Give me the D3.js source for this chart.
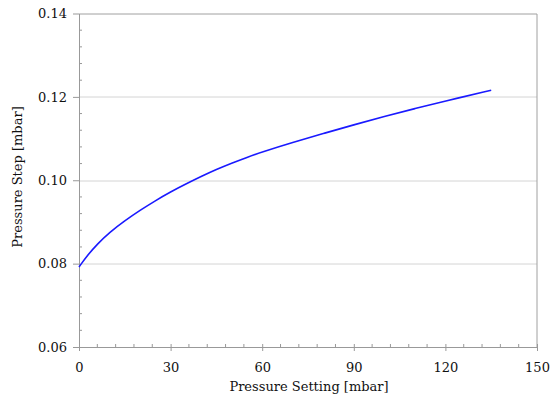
<!DOCTYPE html>
<html>
<head>
<meta charset="utf-8">
<script src="https://cdn.jsdelivr.net/npm/d3@7"></script>
<style>
  body { margin: 0; background: #fff; }
  text { font-family: "DejaVu Serif", serif; fill: #111; }
</style>
</head>
<body>
<svg width="550" height="401"></svg>
<script>
// pressure setting [mbar]
let setting = [0, 3, 6, 10, 15, 20, 25, 30, 35, 40, 45, 50, 55, 60, 70, 80, 90, 100, 110, 120, 135];
// pressure step [mbar]
let step = [0.0792, 0.0822, 0.0847, 0.0875, 0.0903, 0.0928, 0.0951, 0.0972, 0.0991, 0.1009, 0.1026,
            0.1041, 0.1055, 0.1068, 0.1091, 0.1112, 0.1133, 0.1153, 0.1172, 0.1190, 0.1216];

let xTicks = [0, 30, 60, 90, 120, 150];
let yTicks = [0.06, 0.08, 0.10, 0.12, 0.14];

let svg = d3.select("svg");
var padding = {t: 13.5, r: 13, b: 54, l: 79};
var chartWidth = 550 - padding.l - padding.r;
var chartHeight = 401 - padding.t - padding.b;

var x = d3.scaleLinear().domain([0, 150]).range([0, chartWidth]);
var y = d3.scaleLinear().domain([0.06, 0.14]).range([chartHeight, 0]);

let chartG = svg.append("g")
  .attr("transform", "translate(" + padding.l + ", " + padding.t + ")");

// gridlines
chartG.selectAll(".grid")
  .data(yTicks.slice(1, -1))
  .join("line")
    .attr("x1", 0).attr("x2", chartWidth)
    .attr("y1", d => Math.round(y(d)) + 0.5).attr("y2", d => Math.round(y(d)) + 0.5)
    .attr("stroke", "#d4d4d4");

// frame top/right
chartG.append("path")
  .attr("d", "M0,0.5H" + chartWidth + "V" + chartHeight)
  .attr("fill", "none")
  .attr("stroke", "#a0a0a0");

// minor ticks
let xMinor = d3.range(0, 151, 6).filter(v => v % 30 != 0);
let yMinor = d3.range(0, 21).map(i => 0.06 + i * 0.004).filter((v, i) => i % 5 != 0);

let xAxis = chartG.append("g")
  .attr("transform", "translate(0, " + chartHeight + ")")
  .call(d3.axisBottom(x).tickValues(xTicks).tickFormat(d3.format("d")).tickSizeInner(4).tickSizeOuter(0).tickPadding(12));
xAxis.selectAll(".tick line").attr("y1", -3);
xAxis.selectAll(".minor")
  .data(xMinor)
  .join("line")
    .attr("x1", d => x(d)).attr("x2", d => x(d))
    .attr("y1", 0).attr("y2", -3)
    .attr("stroke", "#999");

let yAxis = chartG.append("g")
  .call(d3.axisLeft(y).tickValues(yTicks).tickFormat(d3.format(".2f")).tickSizeInner(6).tickSizeOuter(0).tickPadding(6));
yAxis.selectAll(".minor")
  .data(yMinor)
  .join("line")
    .attr("x1", 0).attr("x2", 3)
    .attr("y1", d => y(d)).attr("y2", d => y(d))
    .attr("stroke", "#999");

chartG.selectAll(".domain, .tick line").attr("stroke", "#999");
chartG.selectAll(".tick text").attr("font-size", "13px").attr("font-family", "DejaVu Serif").attr("fill", "#111");

// curve
chartG.append("path")
  .datum(setting.map((s, i) => [s, step[i]]))
  .attr("fill", "none")
  .attr("stroke", "#1a1aff")
  .attr("stroke-width", 1.6)
  .attr("d", d3.line().x(d => x(d[0])).y(d => y(d[1])).curve(d3.curveBasis));

// axis titles
svg.append("text")
  .attr("x", padding.l + chartWidth / 2 + 1)
  .attr("y", 391)
  .attr("text-anchor", "middle")
  .attr("font-size", "13px")
  .text("Pressure Setting [mbar]");

svg.append("text")
  .attr("transform", "translate(22, 177) rotate(-90)")
  .attr("text-anchor", "middle")
  .attr("font-size", "13px")
  .text("Pressure Step [mbar]");
</script>
</body>
</html>
